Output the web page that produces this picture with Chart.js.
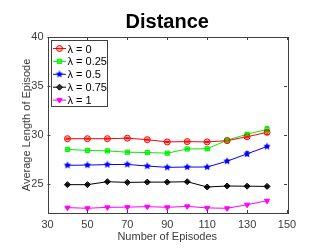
<!DOCTYPE html>
<html>
<head>
<meta charset="utf-8">
<script src="https://cdn.jsdelivr.net/npm/chart.js@4.4.1/dist/chart.umd.min.js"></script>
<style>
  html, body { margin: 0; padding: 0; background: #fff; }
  #wrap { width: 324px; height: 250px; position: relative; }
</style>
</head>
<body>
<div id="wrap"><canvas id="chart"></canvas></div>
<script>
const episodes = [40, 50, 60, 70, 80, 90, 100, 110, 120, 130, 140];
const lambda0    = [29.6, 29.6, 29.6, 29.65, 29.5, 29.27, 29.3, 29.27, 29.4, 29.8, 30.25];
const lambda025  = [28.5, 28.4, 28.35, 28.22, 28.18, 28.12, 28.55, 28.57, 29.45, 30.05, 30.55];
const lambda05   = [26.88, 26.9, 26.95, 26.97, 26.8, 26.67, 26.7, 26.7, 27.3, 28.05, 28.8];
const lambda075  = [24.9, 24.9, 25.2, 25.13, 25.16, 25.16, 25.2, 24.66, 24.76, 24.74, 24.72];
const lambda1    = [22.55, 22.48, 22.58, 22.6, 22.65, 22.58, 22.68, 22.52, 22.48, 22.85, 23.25];
const err0   = [0.05, 0.05, 0.05, 0.05, 0.05, 0.05, 0.05, 0.05, 0.05, 0.1, 0.2];
const err025 = [0.05, 0.05, 0.05, 0.05, 0.05, 0.05, 0.05, 0.05, 0.1, 0.15, 0.3];
const err05  = [0.05, 0.05, 0.05, 0.05, 0.05, 0.05, 0.05, 0.05, 0.1, 0.2, 0.1];
const err075 = [0.05, 0.05, 0.05, 0.05, 0.05, 0.05, 0.05, 0.05, 0.05, 0.05, 0.05];
const err1   = [0.05, 0.05, 0.05, 0.05, 0.05, 0.05, 0.05, 0.05, 0.05, 0.05, 0.1];
const seriesLabels = ['λ = 0', 'λ = 0.25', 'λ = 0.5', 'λ = 0.75', 'λ = 1'];
const xTicks = [30, 50, 70, 90, 110, 130, 150];
const yTicks = [25, 30, 35, 40];

// filled star marker for the blue series
function makeStar(color, r) {
    const c = document.createElement('canvas');
    c.width = c.height = r * 2 + 2;
    const g = c.getContext('2d');
    g.fillStyle = color;
    g.beginPath();
    for (let i = 0; i < 10; i++) {
        const rad = i % 2 === 0 ? r : r * 0.45;
        const a = -Math.PI / 2 + i * Math.PI / 5;
        g.lineTo(r + 1 + rad * Math.cos(a), r + 1 + rad * Math.sin(a));
    }
    g.closePath();
    g.fill();
    return c;
}
const starImg = makeStar('#0000ff', 4);

function series(label, values, errs, color, fill, style, rot) {
    return {
        label: label,
        data: values.map((v, i) => ({ x: episodes[i], y: v })),
        errs: errs,
        borderColor: color,
        backgroundColor: fill,
        borderWidth: 1,
        pointStyle: style,
        pointRotation: rot || 0,
        pointRadius: 3,
        pointBorderWidth: 1,
        tension: 0
    };
}

const axisColor = '#404040';
const textColor = '#3a3a3a';
const fontFamily = '"Liberation Sans", Arial, sans-serif';

function legendMarker(ctx, ds, x, y) {
    ctx.save();
    ctx.fillStyle = ds.backgroundColor;
    ctx.strokeStyle = ds.borderColor;
    ctx.lineWidth = 1;
    Chart.helpers.drawPoint(ctx, {
        pointStyle: ds.pointStyle, rotation: ds.pointRotation,
        radius: 3, borderWidth: 1
    }, x, y);
    ctx.restore();
}

const matlabAxes = {
    id: 'matlabAxes',
    afterDatasetsDraw(chart) {
        const ctx = chart.ctx;
        const a = chart.chartArea;
        const xs = chart.scales.x, ys = chart.scales.y;
        ctx.save();
        // error bars
        chart.data.datasets.forEach(ds => {
            ctx.strokeStyle = ds.borderColor;
            ctx.lineWidth = 1;
            ds.data.forEach((p, i) => {
                const e = ds.errs[i];
                const px = xs.getPixelForValue(p.x);
                const y1 = ys.getPixelForValue(p.y - e), y2 = ys.getPixelForValue(p.y + e);
                ctx.beginPath();
                ctx.moveTo(px, y1); ctx.lineTo(px, y2);
                ctx.moveTo(px - 2, y1); ctx.lineTo(px + 2, y1);
                ctx.moveTo(px - 2, y2); ctx.lineTo(px + 2, y2);
                ctx.stroke();
            });
        });
        // box
        ctx.strokeStyle = axisColor;
        ctx.lineWidth = 1;
        ctx.strokeRect(Math.round(a.left) + 0.5, Math.round(a.top) + 0.5,
            Math.round(a.right - a.left), Math.round(a.bottom - a.top));
        // inner ticks on all sides
        ctx.beginPath();
        xTicks.forEach(t => {
            const px = Math.round(xs.getPixelForValue(t)) + 0.5;
            ctx.moveTo(px, a.bottom); ctx.lineTo(px, a.bottom - 3);
            ctx.moveTo(px, a.top); ctx.lineTo(px, a.top + 3);
        });
        yTicks.forEach(t => {
            const py = Math.round(ys.getPixelForValue(t)) + 0.5;
            ctx.moveTo(a.left, py); ctx.lineTo(a.left + 3, py);
            ctx.moveTo(a.right, py); ctx.lineTo(a.right - 3, py);
        });
        ctx.stroke();
        // title
        ctx.fillStyle = '#000';
        ctx.font = 'bold 20px ' + fontFamily;
        ctx.textAlign = 'center';
        ctx.textBaseline = 'middle';
        ctx.fillText('Distance', (a.left + a.right) / 2, 22);
        // legend
        const lx = Math.round(a.left) + 3, ly = Math.round(a.top) + 3, lw = 56, lh = 66;
        ctx.fillStyle = '#fff';
        ctx.fillRect(lx, ly, lw, lh);
        ctx.strokeStyle = axisColor;
        ctx.strokeRect(lx + 0.5, ly + 0.5, lw, lh);
        ctx.font = '11px ' + fontFamily;
        ctx.textAlign = 'left';
        chart.data.datasets.forEach((ds, i) => {
            const cy = ly + 8.5 + i * 12.9;
            ctx.strokeStyle = ds.borderColor;
            ctx.beginPath();
            ctx.moveTo(lx + 2, cy); ctx.lineTo(lx + 15, cy);
            ctx.stroke();
            legendMarker(ctx, ds, lx + 8.5, cy);
            ctx.fillStyle = '#000';
            ctx.fillText(ds.label, lx + 16.5, cy + 1);
        });
        ctx.restore();
    }
};

new Chart(document.getElementById('chart'), {
    type: 'line',
    data: {
        datasets: [
            series(seriesLabels[0], lambda0, err0, '#ff0000', 'rgba(255,0,0,0.25)', 'circle'),
            series(seriesLabels[1], lambda025, err025, '#00ee00', 'rgba(0,255,0,0.6)', 'rect'),
            series(seriesLabels[2], lambda05, err05, '#0000ff', '#0000ff', starImg),
            series(seriesLabels[3], lambda075, err075, '#000000', '#333333', 'rectRot'),
            series(seriesLabels[4], lambda1, err1, '#ff00ff', '#ff00ff', 'triangle', 180)
        ]
    },
    options: {
        responsive: true,
        maintainAspectRatio: false,
        animation: false,
        layout: { padding: { top: 37, right: 37, left: 0, bottom: 0 } },
        plugins: {
            legend: { display: false },
            title: { display: false },
            tooltip: { enabled: false }
        },
        scales: {
            x: {
                type: 'linear',
                min: 30, max: 150,
                afterBuildTicks: s => { s.ticks = xTicks.map(v => ({ value: v })); },
                afterFit: s => { s.height = 37; },
                grid: { display: false, drawTicks: false },
                border: { display: false },
                ticks: {
                    color: textColor, padding: 5,
                    font: { family: fontFamily, size: 11 }
                },
                title: {
                    display: true, text: 'Number of Episodes', color: textColor,
                    padding: { top: 0, bottom: 6 },
                    font: { family: fontFamily, size: 11 }
                }
            },
            y: {
                min: 22, max: 40,
                afterBuildTicks: s => { s.ticks = yTicks.map(v => ({ value: v })); },
                afterFit: s => { s.width = 47.5; },
                grid: { display: false, drawTicks: false },
                border: { display: false },
                ticks: {
                    color: textColor, padding: 4,
                    font: { family: fontFamily, size: 11 }
                },
                title: {
                    display: true, text: 'Average Length of Episode', color: textColor,
                    padding: { top: 20, bottom: 0 },
                    font: { family: fontFamily, size: 11 }
                }
            }
        }
    },
    plugins: [matlabAxes]
});
</script>
</body>
</html>
